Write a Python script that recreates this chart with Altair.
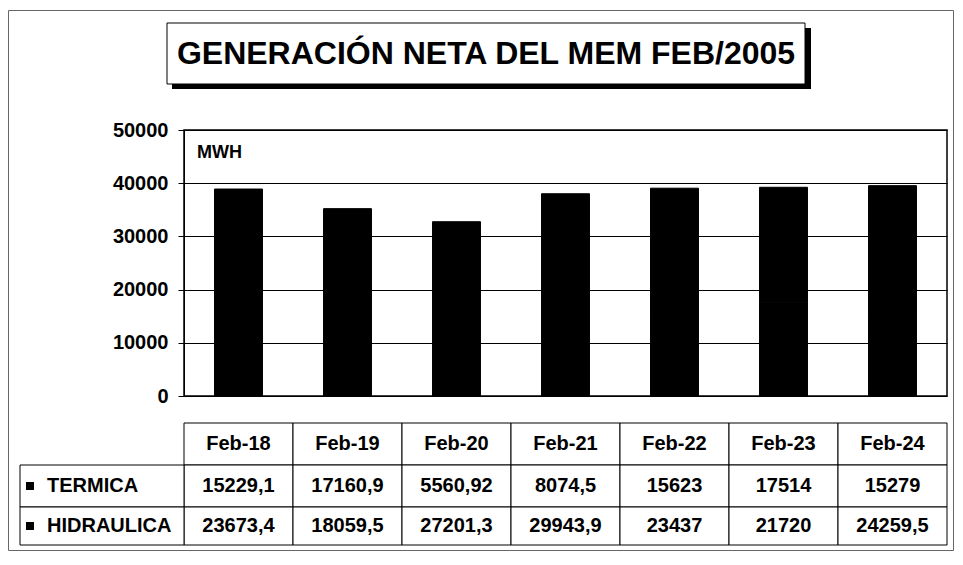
import altair as alt
import pandas as pd

# ---- data ----
dates = ["Feb-18", "Feb-19", "Feb-20", "Feb-21", "Feb-22", "Feb-23", "Feb-24"]
termica = [15229.1, 17160.9, 5560.92, 8074.5, 15623, 17514, 15279]
hidraulica = [23673.4, 18059.5, 27201.3, 29943.9, 23437, 21720, 24259.5]
series = ["TERMICA", "HIDRAULICA"]
y_ticks = [0, 10000, 20000, 30000, 40000, 50000]
title_text = "GENERACIÓN NETA DEL MEM FEB/2005"
unit_text = "MWH"


def fmt(v):
    return f"{v:g}".replace(".", ",")


rows = []
for i, (s, vals) in enumerate(zip(series, [termica, hidraulica])):
    for d, v in zip(dates, vals):
        rows.append({"date": d, "series": s, "value": v, "label": fmt(v), "order": i})
df = pd.DataFrame(rows)
hdr = pd.DataFrame({"date": dates})
leg = pd.DataFrame({"series": series})
one = pd.DataFrame({"t": [title_text], "u": [unit_text]})

FONT = "Liberation Sans"
W, H = 763, 266

x_enc = alt.X("date:N", sort=dates,
              scale=alt.Scale(domain=dates, paddingInner=0, paddingOuter=0),
              axis=None)

bars = alt.Chart(df).mark_bar(width={"band": 0.44}, color="black",
                              stroke="black", strokeWidth=1).encode(
    x=x_enc,
    y=alt.Y("value:Q", stack="zero",
            scale=alt.Scale(domain=[0, 50000], nice=False),
            axis=alt.Axis(values=y_ticks, format="d", title=None,
                          labelFont=FONT, labelFontSize=20, labelFontWeight="bold",
                          labelColor="black", tickColor="black", tickSize=6,
                          labelPadding=10, domainColor="black",
                          gridColor="black", gridWidth=1, gridOpacity=1)),
    detail="series:N",
    order=alt.Order("order:Q"),
)

# outer frame
frame = alt.Chart(one).mark_rect(fillOpacity=0, stroke="#666", strokeWidth=1).encode(
    x=alt.value(-175.5), x2=alt.value(769.5), y=alt.value(-119.5), y2=alt.value(420.5))

# title box with shadow
shadow = alt.Chart(one).mark_rect(color="black").encode(
    x=alt.value(-12), x2=alt.value(627), y=alt.value(-102), y2=alt.value(-41))
tbox = alt.Chart(one).mark_rect(fill="white", stroke="black", strokeWidth=1).encode(
    x=alt.value(-17), x2=alt.value(621), y=alt.value(-107), y2=alt.value(-46))
ttext = alt.Chart(one).mark_text(font=FONT, fontSize=32, fontWeight="bold",
                                 color="black", align="center", baseline="middle").encode(
    x=alt.value(302), y=alt.value(-76), text="t:N")

unit = alt.Chart(one).mark_text(font=FONT, fontSize=18, fontWeight="bold",
                                color="black", align="left", baseline="middle").encode(
    x=alt.value(13), y=alt.value(23), text="u:N")

# table header
hcell = alt.Chart(hdr).mark_bar(fill="white", stroke="black", strokeWidth=1).encode(
    x=x_enc, y=alt.value(293), y2=alt.value(335))
htext = alt.Chart(hdr).mark_text(font=FONT, fontSize=20, fontWeight="bold",
                                 color="black", baseline="middle").encode(
    x=x_enc, y=alt.value(314), text="date:N")

layers = [frame, bars, shadow, tbox, ttext, unit, hcell, htext]

row_bounds = [(335, 377), (377, 415)]
for s, (y0, y1) in zip(series, row_bounds):
    ym = (y0 + y1) / 2
    cells = alt.Chart(df).transform_filter(alt.datum.series == s).mark_bar(
        fill="white", stroke="black", strokeWidth=1).encode(
        x=x_enc, y=alt.value(y0), y2=alt.value(y1))
    vals = alt.Chart(df).transform_filter(alt.datum.series == s).mark_text(
        font=FONT, fontSize=20, fontWeight="bold", color="black", baseline="middle").encode(
        x=x_enc, y=alt.value(ym), text="label:N")
    lcell = alt.Chart(leg).transform_filter(alt.datum.series == s).mark_rect(
        fill="white", stroke="black", strokeWidth=1).encode(
        x=alt.value(-164), x2=alt.value(0), y=alt.value(y0), y2=alt.value(y1))
    lsq = alt.Chart(leg).transform_filter(alt.datum.series == s).mark_rect(color="black").encode(
        x=alt.value(-158), x2=alt.value(-150), y=alt.value(ym - 4), y2=alt.value(ym + 4))
    ltxt = alt.Chart(leg).transform_filter(alt.datum.series == s).mark_text(
        font=FONT, fontSize=20, fontWeight="bold", color="black",
        align="left", baseline="middle").encode(
        x=alt.value(-137), y=alt.value(ym), text="series:N")
    layers += [cells, vals, lcell, lsq, ltxt]

chart = alt.layer(*layers).properties(
    width=W, height=H,
    padding={"left": 176, "top": 122, "right": 8, "bottom": 156},
    autosize=alt.AutoSizeParams(type="none"),
    background="white",
).configure_view(stroke="black", strokeWidth=1.5)

chart.save("out.html", embed_options={"renderer": "svg", "actions": False})
